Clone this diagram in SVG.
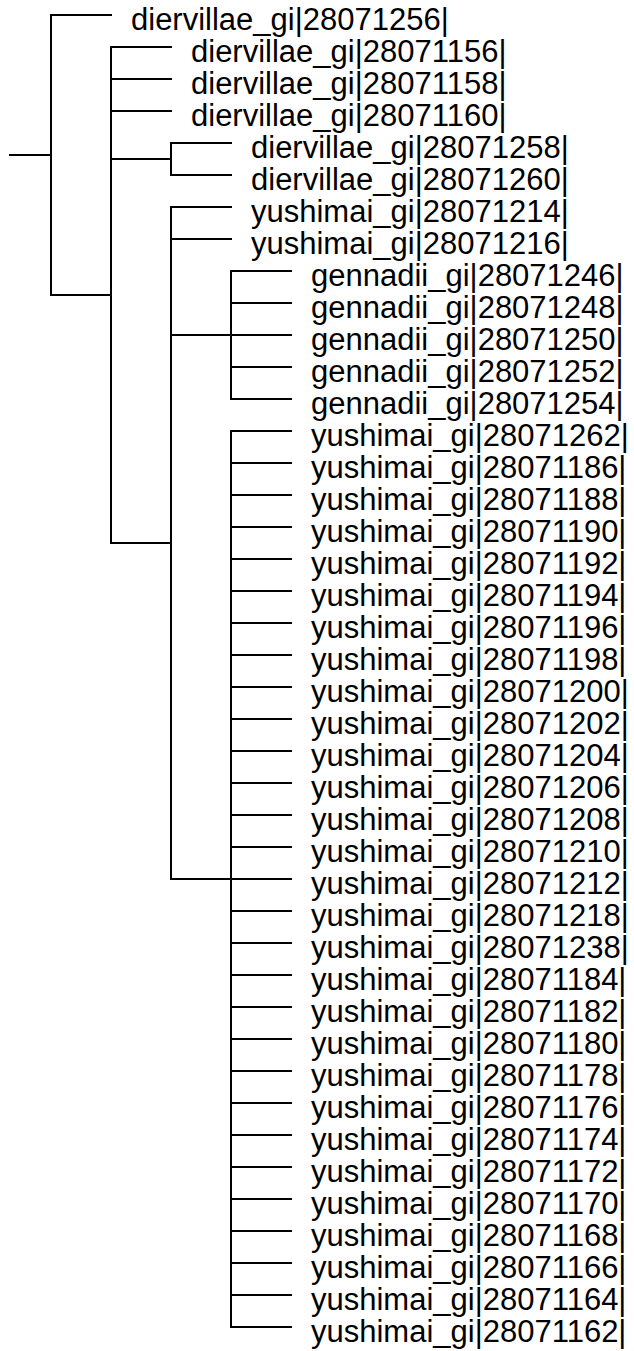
<svg xmlns="http://www.w3.org/2000/svg" width="634" height="1351" viewBox="0 0 634 1351">
<style>
.br{fill:none;stroke:#000;stroke-width:2;stroke-linecap:square}
.lb{font-family:"Liberation Sans",Arial,sans-serif;font-size:31px;fill:#000}
</style>
<rect width="634" height="1351" fill="#fff"/>
<g id="connectors" class="br">
<path d="M10,155H51M51,15V295M51,15H111M51,295H111"/>
<path d="M111,47V543M111,47H171M111,79H171M111,111H171M111,159H171M111,543H171"/>
<path d="M171,143V175M171,143H231M171,175H231"/>
<path d="M171,207V879M171,207H231M171,239H231M171,335H231M171,879H231"/>
<path d="M231,271V399M231,271H291M231,303H291M231,335H291M231,367H291M231,399H291"/>
<path d="M231,431V1327M231,431H291M231,463H291M231,495H291M231,527H291M231,559H291M231,591H291M231,623H291M231,655H291M231,687H291M231,719H291M231,751H291M231,783H291M231,815H291M231,847H291M231,879H291M231,911H291M231,943H291M231,975H291M231,1007H291M231,1039H291M231,1071H291M231,1103H291M231,1135H291M231,1167H291M231,1199H291M231,1231H291M231,1263H291M231,1295H291M231,1327H291"/>
</g>
<g class="lb">
<g id="leaf0"><text x="131" y="30">diervillae_gi|28071256|</text></g>
<g id="leaf1"><text x="191" y="62">diervillae_gi|28071156|</text></g>
<g id="leaf2"><text x="191" y="94">diervillae_gi|28071158|</text></g>
<g id="leaf3"><text x="191" y="126">diervillae_gi|28071160|</text></g>
<g id="leaf4"><text x="251" y="158">diervillae_gi|28071258|</text></g>
<g id="leaf5"><text x="251" y="190">diervillae_gi|28071260|</text></g>
<g id="leaf6"><text x="251" y="222">yushimai_gi|28071214|</text></g>
<g id="leaf7"><text x="251" y="254">yushimai_gi|28071216|</text></g>
<g id="leaf8"><text x="311" y="286">gennadii_gi|28071246|</text></g>
<g id="leaf9"><text x="311" y="318">gennadii_gi|28071248|</text></g>
<g id="leaf10"><text x="311" y="350">gennadii_gi|28071250|</text></g>
<g id="leaf11"><text x="311" y="382">gennadii_gi|28071252|</text></g>
<g id="leaf12"><text x="311" y="414">gennadii_gi|28071254|</text></g>
<g id="leaf13"><text x="311" y="446">yushimai_gi|28071262|</text></g>
<g id="leaf14"><text x="311" y="478">yushimai_gi|28071186|</text></g>
<g id="leaf15"><text x="311" y="510">yushimai_gi|28071188|</text></g>
<g id="leaf16"><text x="311" y="542">yushimai_gi|28071190|</text></g>
<g id="leaf17"><text x="311" y="574">yushimai_gi|28071192|</text></g>
<g id="leaf18"><text x="311" y="606">yushimai_gi|28071194|</text></g>
<g id="leaf19"><text x="311" y="638">yushimai_gi|28071196|</text></g>
<g id="leaf20"><text x="311" y="670">yushimai_gi|28071198|</text></g>
<g id="leaf21"><text x="311" y="702">yushimai_gi|28071200|</text></g>
<g id="leaf22"><text x="311" y="734">yushimai_gi|28071202|</text></g>
<g id="leaf23"><text x="311" y="766">yushimai_gi|28071204|</text></g>
<g id="leaf24"><text x="311" y="798">yushimai_gi|28071206|</text></g>
<g id="leaf25"><text x="311" y="830">yushimai_gi|28071208|</text></g>
<g id="leaf26"><text x="311" y="862">yushimai_gi|28071210|</text></g>
<g id="leaf27"><text x="311" y="894">yushimai_gi|28071212|</text></g>
<g id="leaf28"><text x="311" y="926">yushimai_gi|28071218|</text></g>
<g id="leaf29"><text x="311" y="958">yushimai_gi|28071238|</text></g>
<g id="leaf30"><text x="311" y="990">yushimai_gi|28071184|</text></g>
<g id="leaf31"><text x="311" y="1022">yushimai_gi|28071182|</text></g>
<g id="leaf32"><text x="311" y="1054">yushimai_gi|28071180|</text></g>
<g id="leaf33"><text x="311" y="1086">yushimai_gi|28071178|</text></g>
<g id="leaf34"><text x="311" y="1118">yushimai_gi|28071176|</text></g>
<g id="leaf35"><text x="311" y="1150">yushimai_gi|28071174|</text></g>
<g id="leaf36"><text x="311" y="1182">yushimai_gi|28071172|</text></g>
<g id="leaf37"><text x="311" y="1214">yushimai_gi|28071170|</text></g>
<g id="leaf38"><text x="311" y="1246">yushimai_gi|28071168|</text></g>
<g id="leaf39"><text x="311" y="1278">yushimai_gi|28071166|</text></g>
<g id="leaf40"><text x="311" y="1310">yushimai_gi|28071164|</text></g>
<g id="leaf41"><text x="311" y="1342">yushimai_gi|28071162|</text></g>
</g>
</svg>
